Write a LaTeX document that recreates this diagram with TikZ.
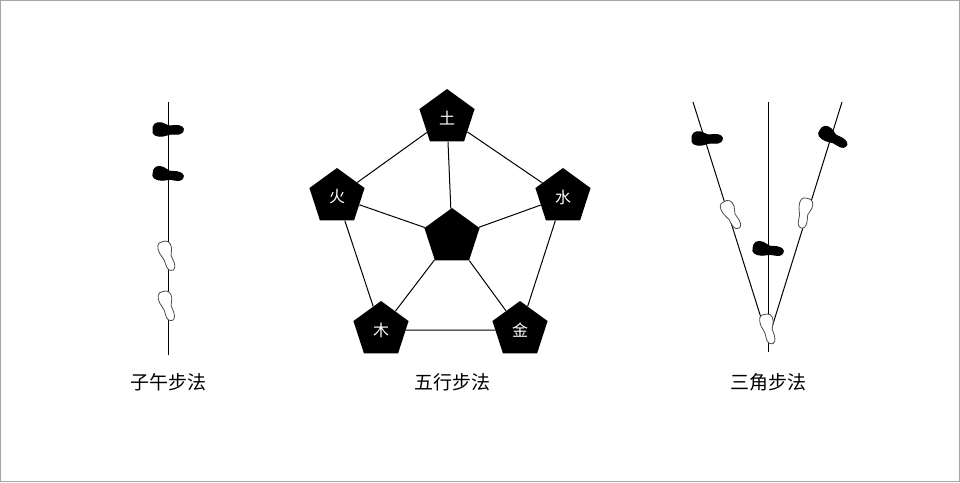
\documentclass[tikz,border=0pt]{standalone}
\usepackage{fontspec}
\setmainfont{Noto Sans CJK SC}
\usetikzlibrary{shapes.geometric}
\tikzset{
 pent/.style={regular polygon,regular polygon sides=5,fill=black,text=white,minimum size=58pt,inner sep=0pt,font=\fontsize{16pt}{16pt}\selectfont},
 ln/.style={line width=1pt},
 lab/.style={font=\fontsize{19pt}{19pt}\selectfont},
 foot/.pic={\path[pic actions] plot[smooth cycle,tension=0.8] coordinates{(-15,0)(-13,-6)(-6,-7)(1,-4)(8,-4.5)(14,-3)(15,1)(11,4)(3,4)(-5,6)(-13,5)};}
}
\begin{document}
\begin{tikzpicture}[x=1pt,y=-1pt]
\draw[gray!70,line width=1pt] (0.5,0.5) rectangle (959.5,481.5);
\useasboundingbox (0,0) rectangle (960,482);
% left
\coordinate (l1) at (168,102); \coordinate (l2) at (168,355);
\draw[ln] (l1)--(l2);
\pic[fill=black,draw=black,line width=1pt] at (168,130) {foot};
\pic[fill=black,draw=black,line width=1pt,rotate=-8] at (168,175) {foot};
\pic[fill=white,draw=black!70,line width=0.8pt,rotate=-70] at (167,256) {foot};
\pic[fill=white,draw=black!70,line width=0.8pt,rotate=-72] at (167,306) {foot};
\node[lab] (t1) at (168,382) {子午步法};
% middle
\node[pent] (c) at (452,237) {};
\node[pent] (tu) at (447,118) {土};
\node[pent] (huo) at (337,197) {火};
\node[pent] (shui) at (563,197) {水};
\node[pent] (mu) at (381,330) {木};
\node[pent] (jin) at (520,330) {金};
\draw[ln] (tu)--(huo)--(mu)--(jin)--(shui)--(tu);
\foreach \n in {tu,huo,shui,mu,jin} \draw[ln] (c)--(\n);
\node[lab] (t2) at (452,382) {五行步法};
% right
\coordinate (r0) at (768,340);
\coordinate (ra) at (693,102); \coordinate (rb) at (842,102);
\coordinate (rc) at (768,102); \coordinate (rd) at (768,352);
\draw[ln] (ra)--(r0)--(rb); \draw[ln] (rc)--(rd);
\pic[fill=black,draw=black,line width=1pt] at (707,139) {foot};
\pic[fill=black,draw=black,line width=1pt,rotate=-30] at (833,138) {foot};
\pic[fill=black,draw=black,line width=1pt,rotate=-8] at (768,250) {foot};
\pic[fill=white,draw=black!70,line width=0.8pt,rotate=-60] at (731,215) {foot};
\pic[fill=white,draw=black!70,line width=0.8pt,rotate=-100] at (804,213) {foot};
\pic[fill=white,draw=black!70,line width=0.8pt,rotate=-75] at (768,329) {foot};
\node[lab] (t3) at (768,382) {三角步法};
\end{tikzpicture}
\end{document}
